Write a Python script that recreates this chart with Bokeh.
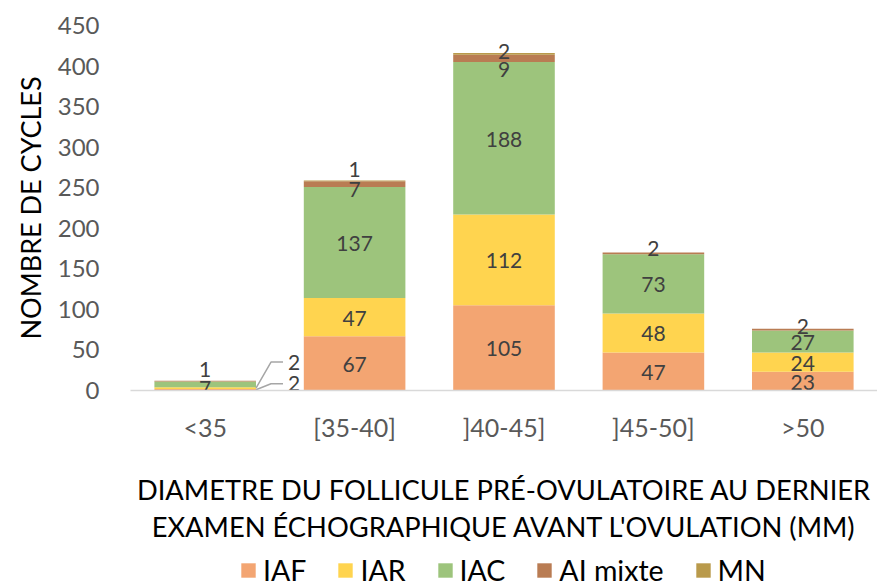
from bokeh.plotting import figure
from bokeh.layouts import column
from bokeh.models import FactorRange, Range1d, FixedTicker, Legend, LegendItem, ColumnDataSource
from bokeh.core.properties import value
from bokeh.embed import file_html
from bokeh.resources import INLINE

# ---------------- data ----------------
categories = ["<35", "[35-40]", "]40-45]", "]45-50]", ">50"]
series = ["IAF", "IAR", "IAC", "AI mixte", "MN"]
IAF = [2, 67, 105, 47, 23]
IAR = [2, 47, 112, 48, 24]
IAC = [7, 137, 188, 73, 27]
AI_mixte = [1, 7, 9, 2, 2]
MN = [0, 1, 2, 0, 0]
y_ticks = [0, 50, 100, 150, 200, 250, 300, 350, 400, 450]
x_title = "DIAMETRE DU FOLLICULE PRÉ-OVULATOIRE AU DERNIER\nEXAMEN ÉCHOGRAPHIQUE AVANT L'OVULATION (MM)"
y_title = "NOMBRE DE CYCLES"

# ---------------- style ----------------
colors = ["#F3A572", "#FFD44F", "#9DC47C", "#B97C53", "#B99A4B"]
FONT = "Lato"
TICK_COLOR = "#595959"
LABEL_COLOR = "#404040"
values_by_series = [IAF, IAR, IAC, AI_mixte, MN]
BAR_W = 0.68
PX_PER_UNIT = 365 / 450
CAT_PX = 747 / 5

# label nudges in px (positive = down), layout only
nudge = {("AI mixte", "<35"): -13, ("IAC", "<35"): 3,
         ("AI mixte", "[35-40]"): 4, ("MN", "[35-40]"): -12,
         ("AI mixte", "]40-45]"): 10, ("MN", "]40-45]"): -3,
         ("AI mixte", "]45-50]"): -6, ("AI mixte", ">50"): -4}
callouts = {("IAF", "<35"): 6, ("IAR", "<35"): 26}  # rise in px

data = {"cat": categories}
for s, v in zip(series, values_by_series):
    data[s] = v
src = ColumnDataSource(data)

p = figure(x_range=FactorRange(*categories), y_range=Range1d(0, 450),
           width=877, height=547, output_backend="svg", toolbar_location=None,
           min_border_left=130, min_border_right=0, min_border_top=25,
           min_border_bottom=157, outline_line_color=None)
p.xgrid.grid_line_color = None
p.ygrid.grid_line_color = None

rs = p.vbar_stack(series, x="cat", width=BAR_W, color=colors, source=src,
                  line_color=None)

# axes
p.yaxis.ticker = FixedTicker(ticks=y_ticks)
p.yaxis.axis_line_color = None
p.yaxis.major_tick_line_color = None
p.yaxis.minor_tick_line_color = None
p.yaxis.major_label_text_font = FONT
p.yaxis.major_label_text_font_size = "24px"
p.yaxis.major_label_text_color = TICK_COLOR
p.yaxis.major_label_standoff = 25
p.yaxis.axis_label = y_title
p.yaxis.axis_label_text_font = FONT
p.yaxis.axis_label_text_font_size = "27px"
p.yaxis.axis_label_text_font_style = "normal"
p.yaxis.axis_label_text_color = "#000000"
p.yaxis.axis_label_standoff = 8

p.xaxis.axis_line_color = "#D9D9D9"
p.xaxis.axis_line_width = 1.5
p.xaxis.major_tick_line_color = None
p.xaxis.minor_tick_line_color = None
p.xaxis.major_label_text_font = FONT
p.xaxis.major_label_text_font_size = "25px"
p.xaxis.major_label_text_color = TICK_COLOR
p.xaxis.major_label_standoff = 15
p.xaxis.axis_label = x_title
p.xaxis.axis_label_text_font = FONT
p.xaxis.axis_label_text_font_size = "27.3px"
p.xaxis.axis_label_text_font_style = "normal"
p.xaxis.axis_label_text_color = "#000000"
p.xaxis.axis_label_text_line_height = 1.15
p.xaxis.axis_label_standoff = 28

# data labels
lx, ly, lt, lo = [], [], [], []
cx, cy, ct = [], [], []
line_xs, line_ys = [], []
for ci, c in enumerate(categories):
    base = 0
    for s, v in zip(series, values_by_series):
        val = v[ci]
        if val == 0:
            continue
        mid = base + val / 2
        base += val
        if (s, c) in callouts:
            rise = callouts[(s, c)]
            xc = ci + 0.5
            edge = xc + BAR_W / 2
            yl = mid + rise / PX_PER_UNIT
            line_xs.append([edge, edge + 15 / CAT_PX, edge + 27 / CAT_PX])
            line_ys.append([mid, yl, yl])
            cx.append(edge + 38 / CAT_PX)
            cy.append(yl)
            ct.append(str(val))
            continue
        lx.append(c)
        ly.append(mid)
        lt.append(str(val))
        lo.append(nudge.get((s, c), 0) + 1)

p.text(x=lx, y=ly, text=lt, y_offset=lo, text_align="center",
       text_baseline="middle", text_font=value(FONT), text_font_size="21px",
       text_color=LABEL_COLOR)
p.multi_line(xs=line_xs, ys=line_ys, line_color="#A6A6A6", line_width=1.5)
p.text(x=cx, y=cy, text=ct, text_align="center", text_baseline="middle",
       text_font=value(FONT), text_font_size="21px", text_color=LABEL_COLOR)

# legend figure below the chart (its renderers sit outside the visible range)
lf = figure(width=877, height=40, output_backend="svg", toolbar_location=None,
            x_range=Range1d(0, 1), y_range=Range1d(0, 1),
            min_border=0, outline_line_color=None)
lf.axis.visible = False
lf.grid.visible = False
lrs = [lf.vbar(x=[-5], top=[-5], width=0.5, color=c, line_color=None) for c in colors]
legend = Legend(items=[LegendItem(label=s, renderers=[r]) for s, r in zip(series, lrs)],
                orientation="horizontal", location=(109, 0),
                glyph_width=18, glyph_height=18, label_standoff=6, spacing=30,
                padding=0, margin=0, border_line_color=None,
                background_fill_alpha=0, label_text_font=FONT,
                label_text_font_size="28.5px", label_text_color="#000000")
lf.add_layout(legend)

layout = column(p, lf, spacing=0)
open("out.html", "w").write(file_html(layout, INLINE))
